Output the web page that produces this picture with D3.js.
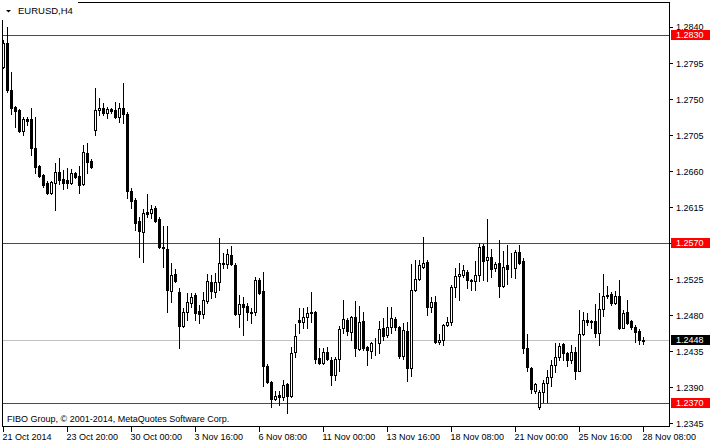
<!DOCTYPE html>
<html><head><meta charset="utf-8">
<script src="https://cdn.jsdelivr.net/npm/d3@7"></script>
<style>
html,body{margin:0;padding:0;background:#fff;}
svg{display:block;}
text{font-family:"Liberation Sans",Arial,sans-serif;}
</style></head>
<body>
<svg id="c" width="710" height="445"></svg>
<script>
const open = [1.27900,1.28200,1.27613,1.27400,1.27363,1.27100,1.27250,1.27250,1.26888,1.26663,
1.26550,1.26450,1.26325,1.26450,1.26588,1.26500,1.26488,1.26450,1.26575,1.26538,
1.26438,1.26825,1.26725,1.27113,1.27363,1.27388,1.27325,1.27375,1.27363,1.27275,
1.27388,1.27313,1.26350,1.26238,1.25975,1.25838,1.26088,1.26075,1.26138,1.26000,
1.25650,1.25625,1.25100,1.25313,1.25088,1.24663,1.24838,1.24950,1.25050,1.24850,
1.24813,1.24975,1.25213,1.25088,1.25213,1.25438,1.25438,1.25550,1.25425,1.24813,
1.24938,1.24913,1.24838,1.24838,1.25238,1.25100,1.24163,1.23963,1.23750,1.23800,
1.23775,1.23938,1.23788,1.24338,1.24738,1.24713,1.24775,1.24825,1.24838,1.24263,
1.24200,1.24338,1.24238,1.24050,1.24250,1.24638,1.24738,1.24588,1.24775,1.24375,
1.24725,1.24400,1.24350,1.24450,1.24450,1.24638,1.24550,1.24650,1.24750,1.24650,
1.24288,1.24600,1.24138,1.25113,1.25250,1.25400,1.25463,1.24900,1.24963,1.24463,
1.24488,1.24675,1.24713,1.25150,1.25288,1.25300,1.25338,1.25238,1.25225,1.25300,
1.25663,1.25488,1.25525,1.25388,1.25450,1.25163,1.25425,1.25388,1.25388,1.25588,
1.25475,1.24388,1.24138,1.23850,1.23650,1.23838,1.23950,1.24025,1.24175,1.24275,
1.24438,1.24325,1.24238,1.24338,1.24100,1.24563,1.24738,1.24725,1.24725,1.24575,
1.24875,1.25038,1.25063,1.24950,1.25038,1.24638,1.24838,1.24725,1.24650,1.24600,
1.24488];
const high = [1.28238,1.28400,1.27838,1.27413,1.27375,1.27275,1.27275,1.27388,1.27275,1.26675,
1.26563,1.26475,1.26475,1.26700,1.26763,1.26613,1.26638,1.26625,1.26588,1.26663,
1.26925,1.26950,1.26750,1.27638,1.27513,1.27450,1.27400,1.27388,1.27463,1.27450,
1.27700,1.27338,1.26388,1.26263,1.26025,1.26125,1.26313,1.26175,1.26163,1.26025,
1.25913,1.25913,1.25450,1.25375,1.25138,1.24888,1.25075,1.25075,1.25075,1.24925,
1.25088,1.25313,1.25300,1.25325,1.25763,1.25575,1.25625,1.25663,1.25450,1.25050,
1.25025,1.24950,1.24888,1.25275,1.25263,1.25338,1.24188,1.23975,1.23850,1.23850,
1.23988,1.23950,1.24400,1.24688,1.24888,1.24888,1.24900,1.25088,1.24850,1.24388,
1.24388,1.24400,1.24275,1.24275,1.24663,1.24988,1.24763,1.24788,1.24975,1.24913,
1.24838,1.24413,1.24463,1.24513,1.24725,1.24763,1.24900,1.24900,1.24775,1.24663,
1.24700,1.24713,1.25438,1.25488,1.25488,1.25775,1.25488,1.25025,1.25038,1.24563,
1.24688,1.24775,1.25175,1.25388,1.25450,1.25425,1.25363,1.25250,1.25475,1.25700,
1.25688,1.26000,1.25625,1.25463,1.25738,1.25600,1.25675,1.25575,1.25613,1.25675,
1.25513,1.24563,1.24150,1.23950,1.23863,1.23988,1.24113,1.24238,1.24450,1.24450,
1.24450,1.24338,1.24425,1.24400,1.24863,1.24838,1.24825,1.24738,1.24938,1.25075,
1.25313,1.25163,1.25088,1.25100,1.25238,1.24863,1.24988,1.24738,1.24675,1.24625,
1.24525];
const low = [1.27888,1.27588,1.27313,1.27150,1.27088,1.27050,1.27175,1.26800,1.26575,1.26525,
1.26400,1.26313,1.26313,1.26113,1.26438,1.26375,1.26388,1.26438,1.26513,1.26325,
1.26425,1.26575,1.26638,1.27050,1.27300,1.27300,1.27263,1.27325,1.27263,1.27213,
1.27200,1.26263,1.26138,1.25863,1.25525,1.25463,1.26025,1.26013,1.25963,1.25638,
1.25400,1.24838,1.24963,1.25213,1.24388,1.24650,1.24738,1.24900,1.24738,1.24700,
1.24763,1.24950,1.25013,1.25025,1.25113,1.25388,1.25388,1.25425,1.24800,1.24650,
1.24550,1.24738,1.24700,1.24800,1.25063,1.23913,1.23950,1.23650,1.23738,1.23675,
1.23738,1.23575,1.23775,1.24275,1.24575,1.24638,1.24638,1.24713,1.24200,1.24188,
1.24188,1.24238,1.23925,1.23988,1.24100,1.24575,1.24550,1.24488,1.24288,1.24363,
1.24363,1.24175,1.24263,1.24300,1.24325,1.24488,1.24525,1.24575,1.24613,1.24263,
1.24250,1.23975,1.24038,1.25100,1.25238,1.25388,1.24800,1.24838,1.24450,1.24438,
1.24425,1.24663,1.24675,1.25025,1.24988,1.25275,1.25138,1.25113,1.25113,1.25225,
1.25238,1.25225,1.25275,1.25350,1.25025,1.25150,1.25188,1.25275,1.25263,1.25438,
1.24325,1.24100,1.23825,1.23825,1.23625,1.23713,1.23713,1.23913,1.24088,1.24238,
1.24238,1.24163,1.24200,1.24000,1.24100,1.24550,1.24675,1.24638,1.24525,1.24425,
1.24788,1.25013,1.24925,1.24938,1.24625,1.24638,1.24688,1.24625,1.24463,1.24438,
1.24438];
const close = [1.28200,1.27613,1.27388,1.27350,1.27100,1.27250,1.27225,1.26888,1.26650,1.26538,
1.26425,1.26325,1.26463,1.26588,1.26488,1.26450,1.26450,1.26575,1.26525,1.26425,
1.26838,1.26713,1.26650,1.27363,1.27388,1.27325,1.27375,1.27350,1.27275,1.27388,
1.27313,1.26350,1.26225,1.25950,1.25850,1.26075,1.26063,1.26125,1.25975,1.25650,
1.25638,1.25113,1.25300,1.25225,1.24663,1.24838,1.24963,1.25025,1.24825,1.24813,
1.24988,1.25225,1.25100,1.25213,1.25450,1.25450,1.25563,1.25438,1.24813,1.24938,
1.24900,1.24838,1.24830,1.25238,1.25075,1.24163,1.23963,1.23750,1.23788,1.23775,
1.23925,1.23788,1.24325,1.24538,1.24713,1.24775,1.24825,1.24838,1.24250,1.24200,
1.24338,1.24250,1.24050,1.24250,1.24625,1.24750,1.24600,1.24775,1.24388,1.24713,
1.24388,1.24363,1.24450,1.24450,1.24625,1.24538,1.24650,1.24763,1.24650,1.24288,
1.24613,1.24138,1.25113,1.25250,1.25425,1.25450,1.24900,1.24963,1.24463,1.24488,
1.24675,1.24713,1.25150,1.25288,1.25313,1.25363,1.25238,1.25225,1.25300,1.25650,
1.25475,1.25525,1.25375,1.25438,1.25163,1.25400,1.25375,1.25388,1.25588,1.25450,
1.24388,1.24150,1.23875,1.23938,1.23838,1.23950,1.24025,1.24175,1.24275,1.24413,
1.24325,1.24238,1.24338,1.24100,1.24563,1.24738,1.24713,1.24713,1.24575,1.24875,
1.25038,1.25044,1.24950,1.25038,1.24638,1.24825,1.24700,1.24650,1.24588,1.24488,
1.24480];

const xTickBars   = [0,16,32,48,64,80,96,112,128,144,160];
const xTickLabels = ["21 Oct 2014","23 Oct 20:00","30 Oct 00:00","3 Nov 16:00","6 Nov 08:00",
  "11 Nov 00:00","13 Nov 16:00","18 Nov 08:00","21 Nov 00:00","25 Nov 16:00","28 Nov 08:00"];
const yTicks = [1.2840,1.2795,1.2750,1.2705,1.2660,1.2615,1.2570,1.2525,1.2480,1.2435,1.2390,1.2345];
const levelLines = [1.2830,1.2570,1.2370];
const bidPrice = 1.2448;
const title = "EURUSD,H4";
const copyright = "FIBO Group, \u00A9 2001-2014, MetaQuotes Software Corp.";

const svg = d3.select("#c");
const W = 710, H = 445;
const frame = {l:2.5, r:669.5, t:2.5, b:426.5};

// scales: map to pixel column / row (top-left of the pixel)
const x = d3.scaleLinear().domain([0, 160]).range([3, 643]);
const y = d3.scaleLinear().domain([1.2345, 1.2840]).range([423, 27]);
const row = v => Math.round(y(v));
const bidRow = Math.floor(y(bidPrice));

svg.append("rect").attr("width",W).attr("height",H).attr("fill","#fff");

// level lines
const gL = svg.append("g");
gL.append("line").attr("x1",frame.l).attr("x2",frame.r)
  .attr("y1",bidRow+0.5).attr("y2",bidRow+0.5)
  .attr("stroke","#c0c0c0").attr("stroke-width",1);
gL.selectAll("line.lvl").data(levelLines).enter().append("line").attr("class","lvl")
  .attr("x1",frame.l).attr("x2",frame.r)
  .attr("y1",d=>row(d)+0.5).attr("y2",d=>row(d)+0.5)
  .attr("stroke","#ff0000").attr("stroke-width",1);

// candles
const bars = d3.range(open.length).map(i=>({i,o:open[i],h:high[i],l:low[i],c:close[i]}));
const gC = svg.append("g");
const cg = gC.selectAll("g").data(bars).enter().append("g");
cg.append("line")
  .attr("x1",d=>x(d.i)+0.5).attr("x2",d=>x(d.i)+0.5)
  .attr("y1",d=>row(d.h)).attr("y2",d=>row(d.l)+1)
  .attr("stroke","#000").attr("stroke-width",1);
cg.append("rect")
  .attr("x",d=> d.c>=d.o ? x(d.i)-0.5 : x(d.i)-1)
  .attr("y",d=>{const t=row(Math.max(d.o,d.c)); return d.c>=d.o ? t+0.5 : t;})
  .attr("width",d=> d.c>=d.o ? 2 : 3)
  .attr("height",d=>{const t=row(Math.max(d.o,d.c)), b=row(Math.min(d.o,d.c));
      return d.c>=d.o ? Math.max(0,b-t) : Math.max(1,b-t+1);})
  .attr("fill",d=> d.c>=d.o ? "#fff" : "#000")
  .attr("stroke",d=> d.c>=d.o ? "#000" : "none")
  .attr("stroke-width",1);

// frame
svg.append("rect").attr("x",frame.l).attr("y",frame.t)
  .attr("width",frame.r-frame.l).attr("height",frame.b-frame.t)
  .attr("fill","none").attr("stroke","#000").attr("stroke-width",1);

// price label boxes (computed first so tick texts can avoid them)
const labels = levelLines.map(v=>({v,r:row(v),fill:"#ff0000"})).concat([{v:bidPrice,r:bidRow,fill:"#000"}]);

// y axis (right)
const yAxis = d3.axisRight(y).tickValues(yTicks).tickSize(3).tickPadding(3)
  .tickFormat(d3.format(".4f"));
const gy = svg.append("g").attr("transform","translate(670,0)").call(yAxis);
gy.select(".domain").remove();
gy.selectAll(".tick text")
  .attr("font-size","9px").attr("font-family","Liberation Sans, Arial, sans-serif")
  .attr("dy",null).attr("fill","#000")
  .attr("y",d=>{
    const tr = row(d);
    let base = 3;               // baseline offset from tick row
    labels.forEach(L=>{
      const top = L.r-5;
      if (tr < L.r && tr+base > top-1) base = top-1-tr;
    });
    return base;
  })
  .style("display",d=> levelLines.some(v=>Math.abs(v-d)<1e-6) ? "none" : null);

// x axis (bottom)
const xAxis = d3.axisBottom(x).tickValues(xTickBars).tickSize(5).tickPadding(0)
  .tickFormat((d,k)=>xTickLabels[k]);
const gx = svg.append("g").attr("transform","translate(0,427)").call(xAxis);
gx.select(".domain").remove();
gx.selectAll("text").attr("font-size","9px").attr("font-family","Liberation Sans, Arial, sans-serif")
  .attr("text-anchor","start").attr("dy",null).attr("y",13).attr("x",-1).attr("fill","#000");

const gp = svg.append("g");
gp.selectAll("rect").data(labels).enter().append("rect")
  .attr("x",671).attr("y",d=>d.r-5).attr("width",W-671).attr("height",10)
  .attr("fill",d=>d.fill);
gp.selectAll("text").data(labels).enter().append("text")
  .attr("x",676).attr("y",d=>d.r+3)
  .attr("font-size","9px").attr("fill","#fff")
  .text(d=>d3.format(".4f")(d.v));

// title
svg.append("rect").attr("x",0).attr("y",0).attr("width",78).attr("height",20).attr("fill","#fff");
svg.append("path").attr("d","M6,10 L11,10 L8.5,12.5 Z").attr("fill","#000");
svg.append("text").attr("x",18).attr("y",14).attr("font-size","9.5px").attr("fill","#000").text(title);

// copyright
svg.append("text").attr("x",7).attr("y",422).attr("font-size","9px").attr("fill","#000").text(copyright);
</script>
</body></html>
